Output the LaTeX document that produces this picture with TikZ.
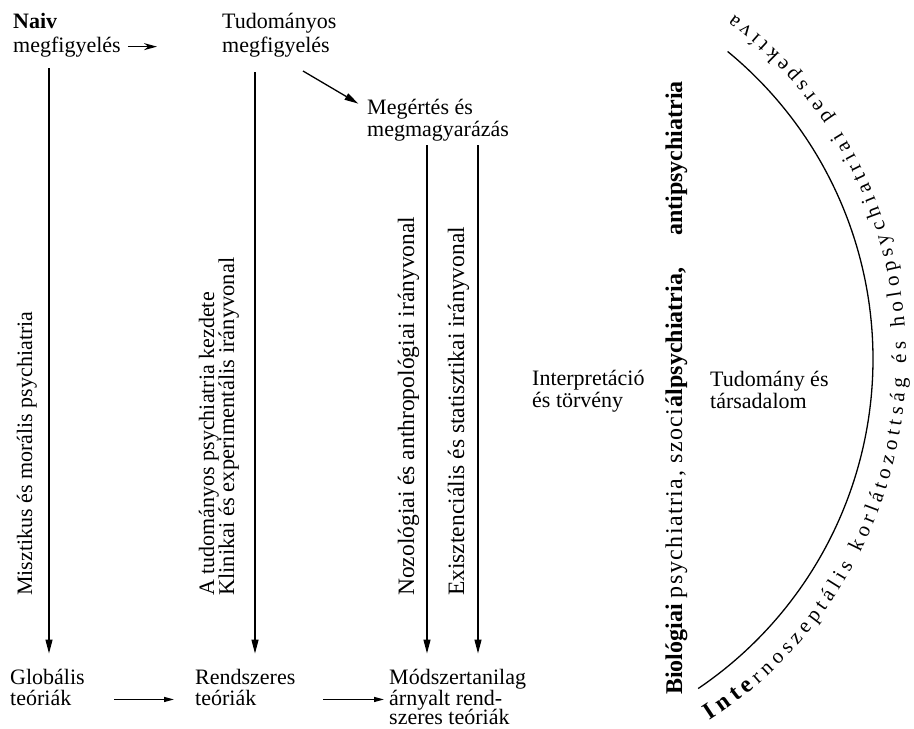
\documentclass[tikz,border=0pt]{standalone}
\usepackage{fontspec}
\setmainfont{Liberation Serif}
\usetikzlibrary{arrows.meta,decorations.text,calc}
\begin{document}
\begin{tikzpicture}[x=1pt,y=-1pt,
  txt/.style={anchor=base west,inner sep=0pt,font=\fontsize{22}{24}\selectfont},
  vtxt/.style={txt,rotate=90},
  vline/.style={line width=1.3pt,-{Triangle[length=14pt,width=7pt]}},
  harr/.style={line width=1.3pt,-{Triangle[length=10pt,width=5pt]}},
  tarr/.style={line width=1.5pt,-{Stealth[length=13pt,width=7pt]}},
  darr/.style={line width=1.3pt,-{Triangle[length=14pt,width=7pt]}},
  arcline/.style={line width=1.3pt},
]
\useasboundingbox (0,0) rectangle (914,729);
% top
\node[txt,font=\fontsize{22}{24}\selectfont\bfseries] (naiv1) at (13,28) {Naiv};
\node[txt] (naiv2) at (13,52) {megfigyelés};
\node[txt] (tud1) at (222,28) {Tudományos};
\node[txt] (tud2) at (222,52) {megfigyelés};
\node[txt] (meg1) at (367,114) {Megértés és};
\node[txt] (meg2) at (367,136) {megmagyarázás};
% bottom
\node[txt] (glob1) at (10,684) {Globális};
\node[txt] (glob2) at (10,705) {teóriák};
\node[txt] (rend1) at (195,684) {Rendszeres};
\node[txt] (rend2) at (195,705) {teóriák};
\node[txt] (mod1) at (389,684) {Módszertanilag};
\node[txt] (mod2) at (389,705) {árnyalt rend-};
\node[txt] (mod3) at (389,724) {szeres teóriák};
% middle
\node[txt] (int1) at (532,385) {Interpretáció};
\node[txt] (int2) at (532,407) {és törvény};
\node[txt] (tar1) at (710,386) {Tudomány és};
\node[txt] (tar2) at (710,408) {társadalom};
% vertical texts
\node[vtxt] (mis) at (32,596) {Misztikus és morális psychiatria};
\node[vtxt] (atud) at (214,596) {A tudományos psychiatria kezdete};
\node[vtxt,font=\fontsize{22.5}{24}\selectfont] (klin) at (234,596) {Klinikai és experimentális irányvonal};
\node[vtxt,font=\fontsize{23.5}{24}\selectfont] (nozo) at (414,596) {Nozológiai és anthropológiai irányvonal};
\node[vtxt,font=\fontsize{23.5}{24}\selectfont] (exis) at (464,596) {Exisztenciális és statisztikai irányvonal};
\node[vtxt,font=\fontsize{24}{24}\selectfont] (bio) at (682,695) {\textbf{Biológiai} {\addfontfeatures{LetterSpace=6}psychiatria, szoci}\textbf{álpsychiatria,}\hspace{26pt} \textbf{antipsychiatria}};
% connectors
\coordinate (l1) at (49,68);
\coordinate (l2) at (255,72);
\coordinate (l3) at (427,145);
\coordinate (l4) at (478,145);
\coordinate (d0) at (303,71);
\draw[tarr,shorten <=7pt,shorten >=65pt] (naiv2.east) -- (naiv2.east -| tud2.west);
\draw[darr,shorten >=10pt] (d0) -- (meg1.west);
\draw[vline,shorten >=15pt] (l1) -- (l1 |- glob1.north);
\draw[vline,shorten >=15pt] (l2) -- (l2 |- rend1.north);
\draw[vline,shorten >=15pt] (l3) -- (l3 |- mod1.north);
\draw[vline,shorten >=15pt] (l4) -- (l4 |- mod1.north);
\draw[harr,shorten <=43pt,shorten >=21pt] ([yshift=-2pt]glob2.east) -- ([yshift=-2pt]glob2.east -| rend2.west);
\draw[harr,shorten <=67pt,shorten >=5pt] ([yshift=-2pt]rend2.east) -- ([yshift=-2pt]rend2.east -| mod2.west);
% arc
\coordinate (c) at (475,359);
\draw[arcline] ($(c)+(55.9:398)$) arc[start angle=55.9,end angle=-50.6,radius=398];
\path[decorate,decoration={text along path,text align=fit to path,
  text={|\bfseries\fontsize{24}{24}\selectfont|Inte|\mdseries\fontsize{21}{21}\selectfont|rnoszeptális korlátozottság és holopsychiatriai perspektíva}}]
  ($(c)+(57:431)$) arc[start angle=57,end angle=-53,radius=431];
\end{tikzpicture}
\end{document}
